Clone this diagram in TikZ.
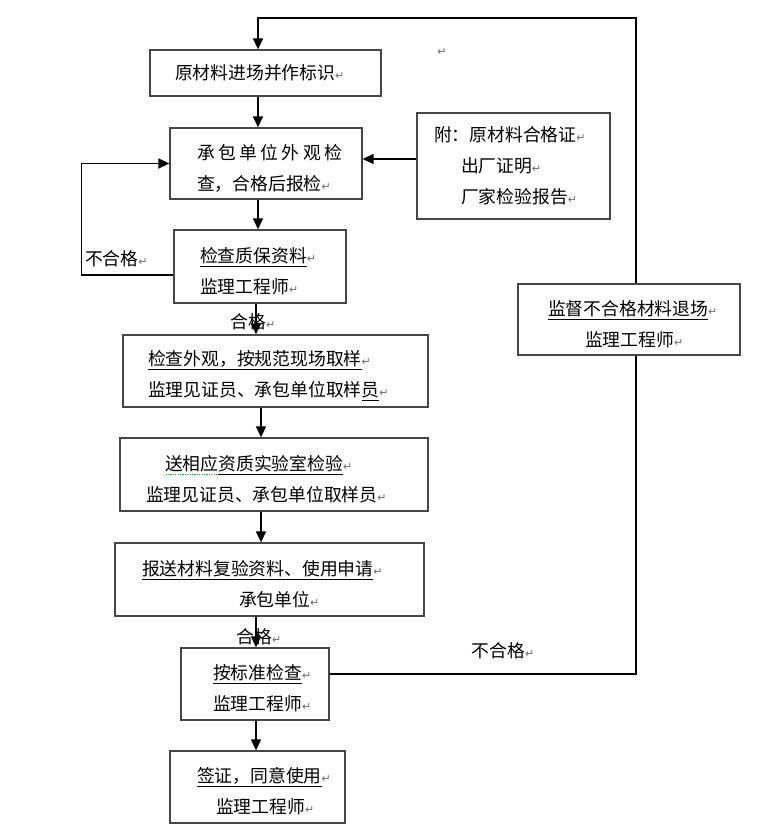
\documentclass[tikz,border=0pt]{standalone}
\usepackage{fontspec}
\newfontfamily\cjk{Noto Sans CJK SC}
\newfontfamily\markfont{DejaVu Sans}
\usetikzlibrary{positioning,arrows.meta}
\definecolor{boxgray}{RGB}{70,70,70}
\definecolor{markgray}{RGB}{110,110,110}
\definecolor{spellgreen}{RGB}{40,160,60}
\newcommand{\pmk}{{\markfont\fontsize{11}{11}\selectfont\color{markgray}↵}}
\newcommand{\ulbar}[1]{\setbox0\hbox{#1}\rlap{\rule[-4.5pt]{\wd0}{1.1pt}}\box0}
\newcommand{\ulspell}[1]{\setbox0\hbox{#1}\rlap{\color{spellgreen}\leaders\hbox to 2.4pt{\hss\rule[-5pt]{1.2pt}{1.2pt}\hss}\hskip\wd0}\box0}
\newcommand{\ind}[1]{\hspace*{#1pt}}
\newcommand{\tstrut}{\rule{0pt}{24pt}}

\begin{document}
\begin{tikzpicture}[
    x=1pt, y=-1pt,
    font=\cjk\fontsize{17.8}{31}\selectfont,
    box/.style={
      draw=boxgray, line width=1.3pt, fill=white,
      inner xsep=0pt, inner ysep=0pt, align=left
    },
    conn/.style={line width=1.4pt, -{Triangle[length=11pt,width=10pt]}},
    lbl/.style={inner sep=0pt},
  ]
    \useasboundingbox (0,0) rectangle (770,833);

    %── arrow columns ───────────────────────────────────────────────────
    \coordinate (ax1) at (258,0);
    \coordinate (ax2) at (256,0);
    \coordinate (ax3) at (261,0);
    \coordinate (tr)  at (636,18);

    %── main chain ──────────────────────────────────────────────────────
    \node[box, text width=231pt, minimum height=46pt] (yuan) at (265.5,73)
      {\ind{25}原材料进场并作标识\pmk};
    \node[box, text width=192pt, minimum height=71pt] (cheng) at (266,163.5)
      {\tstrut\ind{27}\makebox[145pt][s]{承\hfill 包\hfill 单\hfill 位\hfill 外\hfill 观\hfill 检}\\
       \ind{27}查，合格后报检\pmk};
    \node[box, text width=193pt, minimum height=106pt] (fu) at (513.5,166)
      {\ind{17}附：原材料合格证\pmk\\
       \ind{44}出厂证明\pmk\\
       \ind{44}厂家检验报告\pmk};
    \node[box, text width=172pt, minimum height=73pt] (zb) at (260,266.5)
      {\tstrut\ind{26}\ulbar{检查质保资料}\pmk\\
       \ind{26}监理工程师\pmk};
    \node[box, text width=305pt, minimum height=72pt] (qy) at (275.5,371)
      {\tstrut\ind{25}\ulbar{检查外观，按规范现场取样}\pmk\\
       \ind{25}监理见证员、承包单位取样\ulbar{员}\pmk};
    \node[box, text width=308pt, minimum height=73pt] (sy) at (274,474.5)
      {\tstrut\ind{45}\ulspell{送相应}\ulbar{资质实验室检验}\pmk\\
       \ind{26}监理见证员、承包单位取样员\pmk};
    \node[box, text width=309pt, minimum height=73pt] (bs) at (269.5,579.5)
      {\tstrut\ind{27}\ulbar{报送材料复验资料、使用申请}\pmk\\
       \ind{124}承包单位\pmk};
    \node[box, text width=148pt, minimum height=72pt] (qc) at (255,684)
      {\tstrut\ind{32}\ulbar{按标准检查}\pmk\\
       \ind{32}监理工程师\pmk};
    \node[box, text width=175pt, minimum height=72pt] (qz) at (257.5,787)
      {\tstrut\ind{27}\ulbar{签证，同意使用}\pmk\\
       \ind{46}监理工程师\pmk};
    \node[lbl] (stray) at (442,52) {\pmk};

    %── arrows down ─────────────────────────────────────────────────────
    \draw[conn] (yuan.south -| ax1) -- (cheng.north -| ax1);
    \draw[conn] (cheng.south -| ax1) -- (zb.north -| ax1);
    \draw[conn] (zb.south -| ax2) --
      node[lbl, pos=0.6, xshift=-3pt] {合格\pmk} (qy.north -| ax2);
    \draw[conn] (qy.south -| ax3) -- (sy.north -| ax3);
    \draw[conn] (sy.south -| ax3) -- (bs.north -| ax3);
    \draw[conn] (bs.south -| ax2) --
      node[lbl, pos=0.66, xshift=3pt] {合格\pmk} (qc.north -| ax2);
    \draw[conn] (qc.south -| ax2) -- (qz.north -| ax2);

    %── side inputs ─────────────────────────────────────────────────────
    \draw[conn] (fu.west |- 0,159) -- (cheng.east |- 0,159);
    \draw[conn] ([yshift=-8.5pt]zb.west) --
      node[lbl, pos=0.62, above=7pt] {不合格\pmk} ++(-92,0) |- (cheng.west);

    %── reject loop back to the top ─────────────────────────────────────
    \draw[conn] ([yshift=10pt]qc.east) -|
      node[lbl, pos=0.283, above=14pt] {不合格\pmk} (tr) -| (yuan.north -| ax1);

    \node[box, text width=222pt, minimum height=71pt] (tc) at (629,319.5)
      {\tstrut\ind{30}\ulbar{监督不合格材料退场}\pmk\\
       \ind{67}监理工程师\pmk};

\end{tikzpicture}
\end{document}
